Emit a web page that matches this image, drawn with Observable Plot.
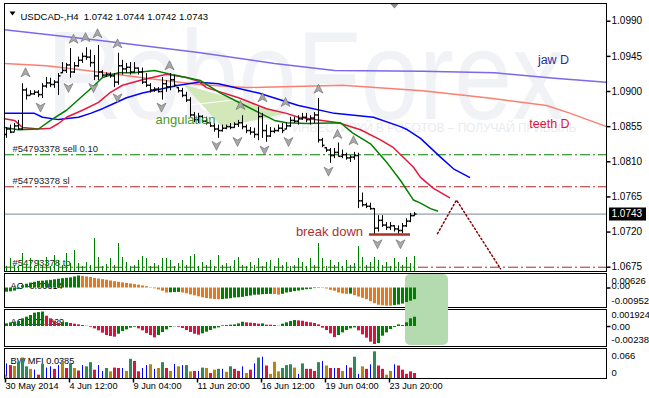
<!DOCTYPE html>
<html>
<head>
<meta charset="utf-8">
<script src="https://cdn.jsdelivr.net/npm/d3@7"></script>
<script src="https://cdn.jsdelivr.net/npm/@observablehq/plot@0.6"></script>
<style>
html,body{margin:0;padding:0;background:#fff;}
#chart{position:relative;width:649px;height:398px;overflow:hidden;background:#fff;}
#chart svg{position:absolute;left:0;}
#strip{position:absolute;left:0;top:394px;width:649px;height:4px;background:#f0f0f0;}
</style>
</head>
<body>
<div id="chart"><div id="strip"></div></div>
<script>
// ---------------- DATA ----------------
const barHigh = [1.0854,1.0857,1.0859,1.0863,1.0910,1.0904,1.0901,1.0901,1.0901,1.0910,
1.0918,1.0917,1.0914,1.0923,1.0937,1.0936,1.0955,1.0937,1.0944,1.0949,
1.0956,1.0953,1.0946,1.0959,1.0927,1.0924,1.0924,1.0923,1.0949,1.0940,
1.0936,1.0937,1.0937,1.0930,1.0930,1.0923,1.0910,1.0905,1.0905,1.0918,
1.0914,1.0923,1.0921,1.0905,1.0904,1.0899,1.0892,1.0873,1.0872,1.0869,
1.0867,1.0860,1.0859,1.0857,1.0857,1.0857,1.0859,1.0860,1.0863,1.0869,
1.0857,1.0854,1.0853,1.0880,1.0872,1.0857,1.0854,1.0853,1.0857,1.0859,
1.0860,1.0867,1.0867,1.0869,1.0872,1.0872,1.0869,1.0873,1.0891,1.0840,
1.0828,1.0827,1.0827,1.0834,1.0825,1.0821,1.0818,1.0822,1.0821,1.0770,
1.0757,1.0757,1.0750,1.0741,1.0741,1.0732,1.0732,1.0728,1.0728,1.0731,
1.0737,1.0744,1.0745];
const barLow = [1.0840,1.0846,1.0848,1.0850,1.0850,1.0889,1.0895,1.0895,1.0892,1.0891,
1.0904,1.0905,1.0904,1.0895,1.0923,1.0923,1.0917,1.0923,1.0931,1.0936,
1.0940,1.0931,1.0914,1.0914,1.0918,1.0918,1.0917,1.0905,1.0908,1.0921,
1.0923,1.0921,1.0924,1.0921,1.0909,1.0905,1.0898,1.0899,1.0898,1.0889,
1.0899,1.0901,1.0905,1.0898,1.0892,1.0886,1.0867,1.0860,1.0859,1.0859,
1.0857,1.0854,1.0848,1.0840,1.0848,1.0851,1.0851,1.0853,1.0854,1.0851,
1.0846,1.0844,1.0840,1.0837,1.0840,1.0835,1.0841,1.0846,1.0848,1.0846,
1.0851,1.0854,1.0859,1.0857,1.0863,1.0860,1.0857,1.0859,1.0834,1.0828,
1.0822,1.0808,1.0814,1.0816,1.0814,1.0812,1.0809,1.0812,1.0750,1.0752,
1.0750,1.0748,1.0716,1.0720,1.0726,1.0722,1.0722,1.0720,1.0716,1.0718,
1.0726,1.0732,1.0740];
const barOpen = [1.0845,1.0852,1.0848,1.0856,1.0852,1.0902,1.0895,1.0897,1.0899,1.0896,
1.0907,1.0911,1.0909,1.0912,1.0924,1.0927,1.0934,1.0925,1.0933,1.0940,
1.0945,1.0944,1.0937,1.0920,1.0925,1.0921,1.0922,1.0920,1.0912,1.0933,
1.0929,1.0931,1.0925,1.0930,1.0925,1.0912,1.0908,1.0902,1.0903,1.0900,
1.0910,1.0906,1.0915,1.0905,1.0901,1.0895,1.0889,1.0870,1.0864,1.0868,
1.0862,1.0860,1.0856,1.0852,1.0850,1.0853,1.0855,1.0854,1.0858,1.0860,
1.0855,1.0850,1.0848,1.0845,1.0868,1.0850,1.0843,1.0849,1.0850,1.0853,
1.0852,1.0856,1.0863,1.0862,1.0865,1.0867,1.0864,1.0866,1.0870,1.0838,
1.0828,1.0825,1.0818,1.0822,1.0817,1.0819,1.0815,1.0816,1.0818,1.0760,
1.0755,1.0753,1.0750,1.0725,1.0735,1.0729,1.0726,1.0728,1.0724,1.0722,
1.0728,1.0734,1.0741];
const barClose = [1.0852,1.0848,1.0856,1.0852,1.0902,1.0895,1.0897,1.0899,1.0896,1.0907,
1.0911,1.0909,1.0912,1.0920,1.0927,1.0934,1.0925,1.0933,1.0940,1.0945,
1.0944,1.0937,1.0920,1.0925,1.0921,1.0922,1.0920,1.0912,1.0933,1.0929,
1.0931,1.0925,1.0930,1.0925,1.0912,1.0908,1.0902,1.0903,1.0900,1.0910,
1.0906,1.0915,1.0908,1.0901,1.0895,1.0889,1.0870,1.0864,1.0868,1.0862,
1.0860,1.0856,1.0852,1.0850,1.0853,1.0855,1.0854,1.0858,1.0860,1.0855,
1.0850,1.0848,1.0845,1.0868,1.0850,1.0843,1.0849,1.0850,1.0853,1.0850,
1.0856,1.0863,1.0862,1.0865,1.0867,1.0864,1.0866,1.0870,1.0838,1.0831,
1.0825,1.0818,1.0822,1.0817,1.0819,1.0815,1.0816,1.0818,1.0760,1.0755,
1.0753,1.0750,1.0725,1.0735,1.0729,1.0726,1.0728,1.0724,1.0722,1.0728,
1.0734,1.0741,1.0743];
const tickVolume = [5,13,6,5,18,7,13,5,11,6, 14,5,16,11,6,18,8,21,8,5,
9,6,33,14,5,7,13,6,28,14, 9,5,6,11,15,13,5,8,6,13, 13,11,5,8,11,6,15,17,5,9,
6,11,5,16,6,8,5,11,14,6, 5,9,6,13,5,9,11,5,13,6, 9,5,6,13,9,5,13,6,28,13,
5,11,6,9,5,11,6,8,25,14, 6,9,14,11,6,9,5,13,9,6, 14,8,15];

// Alligator H4 (index, price)
const jawH4 = [[-0.5,1.0872],[7,1.0872],[9,1.0867],[13,1.0864],[18,1.0867],[21,1.0872],[24,1.0878],[27,1.0885],[30,1.0892],[34,1.0898],[43,1.0908],[48,1.0912],[53,1.0910],[57,1.0905],[63,1.0898],[73,1.0882],[82,1.0872],[91.75,1.0867],[98.5,1.0855],[100.25,1.0851],[103.5,1.0840],[108.5,1.0816],[111.75,1.0801],[115.75,1.0790]];
const teethH4 = [[-0.5,1.0865],[2,1.0863],[4,1.0854],[8,1.0852],[11,1.0853],[13,1.0859],[15,1.0867],[19,1.0876],[23,1.0886],[26,1.0899],[29,1.0908],[34,1.0915],[40,1.0922],[45,1.0918],[48,1.0913],[50,1.0905],[58,1.0892],[65,1.0878],[70,1.0872],[73,1.0867],[83,1.0860],[88.5,1.0851],[93.5,1.0838],[96.75,1.0828],[101.75,1.0803],[103.5,1.0790],[106.75,1.0776],[110.75,1.0764]];
const lipsH4 = [[-0.5,1.0854],[3,1.0851],[8,1.0852],[11,1.0863],[15,1.0876],[18.5,1.0892],[22,1.0908],[24,1.0918],[28,1.0924],[32,1.0924],[37,1.0927],[42,1.0921],[48.5,1.0914],[53.5,1.0898],[58.5,1.0885],[63.5,1.0872],[67,1.0863],[70,1.0860],[75,1.0859],[83.5,1.0860],[86.5,1.0847],[91,1.0833],[95.25,1.0808],[98.5,1.0786],[101.75,1.0761],[103.5,1.0757],[106,1.0750],[107.75,1.0747]];
// Alligator D1
const jawD1 = [[-0.5,1.0979],[24,1.0965],[48,1.0950],[67,1.0936],[82,1.0927],[104,1.0926],[122,1.0924],[137,1.0917],[150,1.0912]];
const teethD1 = [[-0.5,1.0936],[10,1.0933],[20,1.0927],[35,1.0917],[48,1.0909],[60,1.0905],[84,1.0908],[104,1.0901],[120,1.0892],[135,1.0882],[141,1.0872],[150,1.0855]];

// Fractals (index, price of arrow)
const fractalUp = [[4.75,1.0924],[16.75,1.0967],[19.75,1.0969],[22.75,1.0974],[27.75,1.0961],[40.75,1.0933],[58.5,1.0882],[64,1.0892],[69.75,1.0886],[78,1.0903],[82.75,1.0845],[86.75,1.0837]];
const fractalDown = [[8.5,1.0880],[15.5,1.0905],[21.75,1.0905],[27.75,1.0892],[38.75,1.0880],[52.5,1.0831],[57.75,1.0836],[64.5,1.0825],[70.5,1.0836],[80.5,1.0798],[92.75,1.0705],[98.5,1.0705]];

// Drawings
const angulationZone = [[44.25,1.0909],[69.75,1.0872],[54,1.0854]];
const angulationEdge = [[46,1.0883],[58.5,1.0890]];
const breakDownLine = [{from:90.75, to:101, p:1.0717}];
const projection = [[107.75,1.0718],[112.5,1.0761],[123.5,1.0673]];
const sellLevel = 1.0819, slLevel = 1.0778, tpLevel = 1.0675, lastPrice = 1.0743;
const orderLabels = [{i:1.5,p:1.0827,text:"#54793378 sell 0.10"},{i:1.5,p:1.0786,text:"#54793378 sl"},{i:1.5,p:1.0681,text:"#54793378 tp"}];
const watermark = [{i:74.75,p:1.0917,text:"RoboForex"}];
const slogan = [{i:107,p:1.0853,text:"ИНВЕСТИРУЙ В РОБОТОВ – ПОЛУЧАЙ ПРИБЫЛЬ"}];
const highlightBox = [[99.75,110.5]];

// Axes
const priceTicks = [1.0990,1.0945,1.0900,1.0855,1.0810,1.0765,1.0720,1.0675];
const dateTickIdx = [0,16,32,48,64,80,96];
const dateLabels = ["30 May 2014","4 Jun 12:00","9 Jun 04:00","11 Jun 20:00","16 Jun 12:00","19 Jun 04:00","23 Jun 20:00"];

// Oscillators
const aoValues = [-0.0022,-0.0020,-0.0016,-0.0008,0.0012,0.0020,0.0026,0.0030,0.0035,0.0036,
0.0038,0.0040,0.0043,0.0046,0.0049,0.0051,0.0053,0.0058,0.0063,0.0061,
0.0058,0.0055,0.0050,0.0047,0.0044,0.0041,0.0037,0.0033,0.0030,0.0027,
0.0024,0.0021,0.0018,0.0015,0.0011,0.0007,0.0002,-0.0004,-0.0010,-0.0017,
-0.0026,-0.0025,-0.0024,-0.0023,-0.0026,-0.0030,-0.0036,-0.0041,-0.0046,-0.0051,
-0.0055,-0.0058,-0.0060,-0.0061,-0.0060,-0.0058,-0.0056,-0.0052,-0.0051,-0.0049,
-0.0045,-0.0042,-0.0038,-0.0037,-0.0035,-0.0034,-0.0033,-0.0034,-0.0037,-0.0033,
-0.0026,-0.0023,-0.0019,-0.0016,-0.0012,-0.0009,-0.0007,-0.0003,0.0002,-0.0002,
-0.0005,-0.0012,-0.0017,-0.0026,-0.0031,-0.0033,-0.0032,-0.0040,-0.0047,-0.0054,
-0.0061,-0.0071,-0.0082,-0.0090,-0.0093,-0.0095,-0.0095,-0.0092,-0.0089,-0.0084,
-0.0076,-0.0069,-0.0061];
const aoColorCodes = "gggggggggg"+"gggggggggo"+"oooooooooo"+"oooooooooo"+"ogggoooooo"+"oooogggggg"+"gggggggoog"+"gggggggggo"+"oooooogooo"+"oooooooggg"+"ggg";
const acValues = [0.00035,0.00049,0.00057,0.00066,0.00102,0.00124,0.00146,0.00177,0.00185,0.00192,
0.00137,0.00102,0.00066,0.00044,0.00048,0.00052,0.00040,0.00031,0.00022,0.00013,
0.00004,-0.00009,-0.00031,-0.00057,-0.00088,-0.00119,-0.00132,-0.00141,-0.00102,-0.00066,
-0.00044,-0.00022,-0.00009,-0.00031,-0.00057,-0.00093,-0.00119,-0.00150,-0.00119,-0.00079,
-0.00044,-0.00013,-0.00004,-0.00009,-0.00026,-0.00053,-0.00079,-0.00102,-0.00115,-0.00097,
-0.00075,-0.00053,-0.00031,-0.00018,0.00009,0.00013,0.00018,0.00022,0.00035,0.00057,
0.00049,0.00044,0.00040,0.00031,0.00035,0.00018,0.00018,0.00013,0.00004,0.00031,
0.00049,0.00066,0.00079,0.00075,0.00070,0.00057,0.00049,0.00040,0.00022,-0.00022,
-0.00053,-0.00097,-0.00146,-0.00119,-0.00084,-0.00053,-0.00031,-0.00018,-0.00057,-0.00110,
-0.00154,-0.00207,-0.00238,-0.00225,-0.00128,-0.00084,-0.00040,-0.00013,0.00022,0.00013,
0.00049,0.00102,0.00123];
const acColorCodes = "gggggggggg"+"rrrrggrrrr"+"rrrrrrrrgg"+"gggrrrrrgg"+"gggrrrrrrg"+"gggggggggg"+"rrrrgrrrrg"+"gggrrrrrrr"+"rrrgggggrr"+"rrrggggggr"+"ggg";
const mfiValues = [0.035,0.031,0.029,0.039,0.049,0.028,0.022,0.020,0.008,0.034,
0.025,0.028,0.022,0.031,0.041,0.024,0.035,0.024,0.018,0.031,
0.028,0.038,0.020,0.031,0.017,0.024,0.016,0.025,0.024,0.024,
0.017,0.046,0.041,0.016,0.024,0.031,0.033,0.022,0.024,0.038,
0.024,0.017,0.034,0.028,0.031,0.031,0.016,0.017,0.017,0.025,
0.024,0.012,0.020,0.022,0.022,0.015,0.028,0.022,0.017,0.028,
0.012,0.020,0.035,0.049,0.051,0.030,0.010,0.039,0.016,0.024,
0.031,0.033,0.025,0.010,0.035,0.022,0.022,0.017,0.038,0.041,
0.030,0.024,0.024,0.024,0.017,0.031,0.025,0.051,0.010,0.028,
0.022,0.033,0.064,0.030,0.022,0.008,0.017,0.033,0.030,0.020,
0.010,0.016,0.012];
const mfiColorCodes = "brygggybrg"+"bbrbyrgyrb"+"ggrbbgyrrb"+"ygrrbbybyg"+"rybybgyrbg"+"yrygbygrrb"+"yrbgbryyyg"+"ggybgrrrgb"+"yrbrybrgby"+"rbgrryybrr"+"rrr";

// ---------------- RENDER ----------------
const W = 649, ML = 4, MR = 43;
const X_DOMAIN = [-0.5, 150];
const FONT = "'Liberation Sans', Arial, Helvetica, sans-serif";
const bars = barHigh.map((h, i) => ({i, high: h, low: barLow[i], open: barOpen[i], close: barClose[i]}));
const vols = tickVolume.map((v, i) => ({i, v}));
const aoColor = {g: "#008000", o: "#e8781e"};
const acColor = {g: "#008000", r: "#e0103c"};
const mfiColor = {g: "#2e8b57", r: "#dc143c", y: "#b8860b", b: "#0000ff"};
const ao = aoValues.map((v, i) => ({i, v, c: aoColor[aoColorCodes[i]]}));
const ac = acValues.map((v, i) => ({i, v, c: acColor[acColorCodes[i]]}));
const mfi = mfiValues.map((v, i) => ({i, v, k: mfiColorCodes[i], c: mfiColor[mfiColorCodes[i]]}));
const dateTicks = dateTickIdx.map((d, k) => ({i: d, label: dateLabels[k]}));

const sym = {
  openTick: {draw(c){c.moveTo(-2,0);c.lineTo(0,0);}},
  closeTick: {draw(c){c.moveTo(0,0);c.lineTo(2,0);}},
  up: {draw(c){c.moveTo(0,-5);c.lineTo(4.5,4);c.lineTo(0,1.5);c.lineTo(-4.5,4);c.closePath();}},
  down: {draw(c){c.moveTo(0,5);c.lineTo(4.5,-4);c.lineTo(0,-1.5);c.lineTo(-4.5,-4);c.closePath();}},
  hTick: {draw(c){c.moveTo(0,0);c.lineTo(4,0);}},
  vTick: {draw(c){c.moveTo(0,0);c.lineTo(0,4);}},
  priceBox: {draw(c){c.rect(2.5,-6.5,37,13);}},
  shiftMark: {draw(c){c.moveTo(-4.5,0);c.lineTo(4.5,0);c.lineTo(0,5);c.closePath();}},
  titleMark: {draw(c){c.moveTo(-3,-2);c.lineTo(3,-2);c.lineTo(0,2);c.closePath();}},
  cornerMark: {draw(c){c.moveTo(0,0);c.lineTo(0,-5);c.lineTo(4,0);c.closePath();}}
};
const X = d => d[0], Y = d => d[1];

function panel(top, height, mt, mb, ydomain, marks, bg) {
  const svg = Plot.plot({
    width: W, height, marginLeft: ML, marginRight: MR, marginTop: mt, marginBottom: mb,
    x: {domain: X_DOMAIN, axis: null},
    y: {domain: ydomain, axis: null},
    style: `font-family:${FONT};font-size:10px;background:${bg || "white"};overflow:hidden;color:black;`,
    marks
  });
  svg.style.position = "absolute";
  svg.style.top = top + "px";
  svg.style.left = "0px";
  document.getElementById("chart").appendChild(svg);
  return svg;
}
function yLabel(v, t, dy, fs) {
  return Plot.text([t], {y: [v], text: d => d, frameAnchor: "right", dx: 5, dy, textAnchor: "start", fontSize: fs || 9.5, fill: "black"});
}

// Main price window
const main = panel(0, 272, 3, 1, [1.06695, 1.10127], [
  Plot.text(watermark, {x: "i", y: "p", text: "text", fill: "#f0f2f6", fontSize: 127, fontFamily: "'Liberation Sans Narrow', 'Liberation Sans', Arial, sans-serif"}),
  Plot.text(slogan, {x: "i", y: "p", text: "text", fill: "#e9ecf0", fontSize: 13, fontFamily: "'Liberation Sans Narrow', 'Liberation Sans', Arial, sans-serif"}),
  Plot.line(angulationZone, {x: X, y: Y, fill: "#d3e8b8", stroke: "none", curve: "linear-closed"}),
  Plot.line(angulationEdge, {x: X, y: Y, stroke: "white", strokeWidth: 1}),
  Plot.ruleY([sellLevel], {stroke: "#008000", strokeDasharray: "10,3,2,3"}),
  Plot.ruleY([slLevel], {stroke: "#b22222", strokeDasharray: "10,3,2,3"}),
  Plot.ruleY([tpLevel], {stroke: "#b22222", strokeDasharray: "10,3,2,3"}),
  Plot.ruleY([lastPrice], {stroke: "#778899"}),
  Plot.text(orderLabels, {x: "i", y: "p", text: "text", textAnchor: "start", fill: "#1e1e1e", fontSize: 9.5}),
  Plot.line(jawD1, {x: X, y: Y, stroke: "#7b68ee"}),
  Plot.line(teethD1, {x: X, y: Y, stroke: "#fa8072"}),
  Plot.line(jawH4, {x: X, y: Y, stroke: "#0000ff"}),
  Plot.line(teethH4, {x: X, y: Y, stroke: "#e8173f"}),
  Plot.line(lipsH4, {x: X, y: Y, stroke: "#008000"}),
  Plot.ruleX(bars, {x: "i", y1: "low", y2: "high", stroke: "black"}),
  Plot.dot(bars, {x: "i", y: "open", symbol: sym.openTick, stroke: "black", fill: "none"}),
  Plot.dot(bars, {x: "i", y: "close", symbol: sym.closeTick, stroke: "black", fill: "none"}),
  Plot.ruleY(breakDownLine, {y: "p", x1: "from", x2: "to", stroke: "#a93226", strokeWidth: 2.5}),
  Plot.line(projection, {x: X, y: Y, stroke: "#8b0000", strokeDasharray: "1.5,2.5"}),
  Plot.dot(fractalUp, {x: X, y: Y, symbol: sym.up, fill: "#a8a8a8", stroke: "#6a6a6a", strokeWidth: 0.6}),
  Plot.dot(fractalDown, {x: X, y: Y, symbol: sym.down, fill: "#a8a8a8", stroke: "#6a6a6a", strokeWidth: 0.6}),
  Plot.text(["angulation"], {x: [44.75], y: [1.0864], text: d => d, fill: "#4c9a2a", fontSize: 13}),
  Plot.text(["break down"], {x: [80.75], y: [1.0720], text: d => d, fill: "#b03030", fontSize: 13}),
  Plot.text(["jaw D"], {x: [136.75], y: [1.0940], text: d => d, fill: "#2c2c96", fontSize: 12.5}),
  Plot.text(["teeth D"], {x: [135.75], y: [1.0859], text: d => d, fill: "#dc143c", fontSize: 12.5}),
  Plot.dot([0], {frameAnchor: "top-left", dx: 8, dy: 10, symbol: sym.titleMark, fill: "black", stroke: "none"}),
  Plot.text(["USDCAD-,H4  1.0742 1.0744 1.0742 1.0743"], {frameAnchor: "top-left", dx: 16, dy: 10, text: d => d, textAnchor: "start", fontSize: 9.5, fill: "black"}),
  Plot.dot([97], {x: d => d, frameAnchor: "top", symbol: sym.shiftMark, fill: "#8c8c8c", stroke: "none"}),
  Plot.dot(priceTicks, {y: d => d, frameAnchor: "right", symbol: sym.hTick, stroke: "black", fill: "none"}),
  Plot.text(priceTicks, {y: d => d, text: d => d.toFixed(4), frameAnchor: "right", dx: 5, textAnchor: "start", fontSize: 10, fill: "black"}),
  Plot.dot([lastPrice], {y: d => d, frameAnchor: "right", symbol: sym.priceBox, fill: "black", stroke: "none"}),
  Plot.text([lastPrice], {y: d => d, text: d => d.toFixed(4), frameAnchor: "right", dx: 5, textAnchor: "start", fontSize: 10, fill: "white"}),
  Plot.frame({stroke: "black"})
]);
d3.select(main).selectAll("text").each(function() {
  if (this.textContent === "RoboForex") { this.setAttribute("textLength", 518); this.setAttribute("lengthAdjust", "spacingAndGlyphs"); }
  if (this.textContent.startsWith("ИНВЕСТИРУЙ")) { this.setAttribute("textLength", 284); this.setAttribute("lengthAdjust", "spacingAndGlyphs"); }
});

// Volume overlay on main window
panel(0, 272, 3, 1, [0, 268], [
  Plot.ruleX(vols, {x: "i", y1: 0, y2: "v", stroke: "#008000"})
], "transparent");

// AO window
panel(272, 36, 1, 1, [-0.0102, 0.0076], [
  Plot.text(["AO -0.00614"], {frameAnchor: "top-left", dx: 6, dy: 9, text: d => d, textAnchor: "start", fontSize: 9.2, fill: "black"}),
  Plot.frame({stroke: "black"}),
  Plot.rect(highlightBox, {x1: X, x2: d => d[1], fill: "#b3dbaf", rx: 5, insetTop: 1, insetBottom: -10}),
  Plot.ruleX(ao, {x: "i", y1: 0, y2: "v", stroke: "c", strokeWidth: 3}),
  Plot.dot([0], {y: d => d, frameAnchor: "right", symbol: sym.hTick, stroke: "black", fill: "none"}),
  yLabel(0.00626, "0.00626", 4.4),
  yLabel(0, "0.00", -1.8),
  yLabel(-0.00952, "-0.00952", -5.7)
]);

// AC window
panel(308, 39, 1, 1, [-0.002645, 0.002255], [
  Plot.text(["AC 0.001229"], {frameAnchor: "top-left", dx: 6, dy: 9, text: d => d, textAnchor: "start", fontSize: 9.2, fill: "black"}),
  Plot.frame({stroke: "black"}),
  Plot.rect(highlightBox, {x1: X, x2: d => d[1], fill: "#b3dbaf", rx: 5, insetTop: -10, insetBottom: 1}),
  Plot.ruleX(ac, {x: "i", y1: 0, y2: "v", stroke: "c", strokeWidth: 3}),
  Plot.dot([0], {y: d => d, frameAnchor: "right", symbol: sym.hTick, stroke: "black", fill: "none"}),
  yLabel(0.001924, "0.001924", 3.5, 9.2),
  yLabel(0, "0.00", 0),
  yLabel(-0.00238, "-0.00238", -5)
]);

// BW MFI window + time axis
panel(347, 51, 1, 20, [0, 0.072], [
  Plot.text(["BW MFI 0.0385"], {frameAnchor: "top-left", dx: 6, dy: 9, text: d => d, textAnchor: "start", fontSize: 9.2, fill: "black"}),
  Plot.ruleX(mfi.filter(d => d.k !== "b"), {x: "i", y1: 0, y2: "v", stroke: "c", strokeWidth: 3}),
  Plot.ruleX(mfi.filter(d => d.k === "b"), {x: "i", y1: 0, y2: "v", stroke: "c", strokeWidth: 1}),
  Plot.dot([0], {frameAnchor: "bottom-left", symbol: sym.cornerMark, fill: "#8c8c8c", stroke: "none"}),
  yLabel(0.066, "0.066", 5.2),
  yLabel(0, "0", -5.7),
  Plot.dot(dateTicks, {x: "i", frameAnchor: "bottom", dx: -1, symbol: sym.vTick, stroke: "black", fill: "none"}),
  Plot.text(dateTicks, {x: "i", text: "label", frameAnchor: "bottom", dx: -1, dy: 10, textAnchor: "start", fontSize: 9.2, fill: "black"}),
  Plot.frame({stroke: "black"})
]);
</script>
</body>
</html>
